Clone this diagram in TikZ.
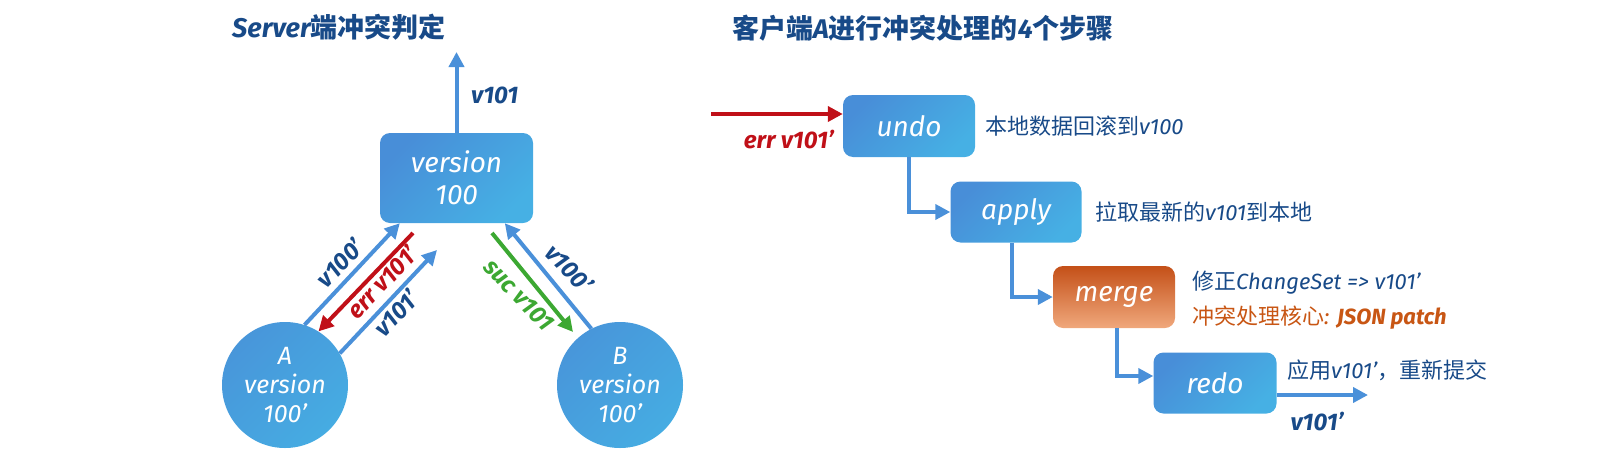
\documentclass[tikz,border=0pt]{standalone}
\usepackage{fontspec}
\setmainfont{Fira Sans}
\newfontfamily\cjk{Noto Sans CJK SC}
\usetikzlibrary{arrows.meta,calc}
\definecolor{boxA}{RGB}{72,142,216}
\definecolor{boxB}{RGB}{70,176,228}
\definecolor{circA}{RGB}{72,150,218}
\definecolor{circB}{RGB}{70,172,226}
\definecolor{orA}{RGB}{196,80,24}
\definecolor{orB}{RGB}{240,168,124}
\definecolor{lineblue}{RGB}{74,144,217}
\definecolor{darkblue}{RGB}{24,74,136}
\definecolor{errred}{RGB}{192,16,24}
\definecolor{sucgreen}{RGB}{60,168,50}
\definecolor{orangetext}{RGB}{200,86,20}
\tikzset{
  stepbox/.style={rectangle, rounded corners=10pt, inner sep=0pt, shading=axis,
     top color=boxA, bottom color=boxB, shading angle=45, text=white,
     font=\fontsize{28}{30}\selectfont\itshape},
  orangebox/.style={stepbox, top color=orA, bottom color=orB},
  client/.style={circle, inner sep=0pt, minimum size=126pt, shading=axis,
     top color=circA, bottom color=circB, shading angle=45, text=white,
     align=center, font=\fontsize{25}{29}\selectfont\itshape},
  conn/.style={line width=4pt, -{Triangle[length=15pt,width=15pt]}},
  bluearrow/.style={conn, draw=lineblue},
  redarrow/.style={conn, draw=errred},
  greenarrow/.style={conn, draw=sucgreen},
  lbl/.style={font=\fontsize{24}{26}\selectfont\bfseries\itshape, inner sep=1pt},
  desc/.style={anchor=west, text=darkblue, inner sep=0pt, font=\fontsize{22}{24}\selectfont\itshape},
  titletext/.style={anchor=west, text=darkblue, inner sep=0pt, font=\fontsize{27}{30}\selectfont\bfseries\itshape}
}
\begin{document}
\begin{tikzpicture}[x=1pt,y=-1pt]
\useasboundingbox (0,0) rectangle (1600,450);
% ---------- Left: server ----------
\node[titletext] (t1) at (232,27) {Server{\cjk\bfseries 端冲突判定}};
\node[stepbox, minimum width=153pt, minimum height=90pt, align=center,
      font=\fontsize{28}{32}\selectfont\itshape] (server) at (456.5,178) {version\\100};
\coordinate (up) at (456.5,52);
\draw[bluearrow] (server.north) -- (up);
\node[lbl, text=darkblue, anchor=west] (l101) at (470,95) {v101};

\node[client] (A) at (285,385) {A\\version\\100’};
\node[client] (B) at (620,385) {B\\version\\100’};

% A side arrows
\coordinate (redstart) at (413,233);
\coordinate (bluetip) at (437,250);
\draw[bluearrow] (A.72) -- ($(server.south west)+(20,0)$);
\draw[redarrow] (redstart) -- (A.58);
\draw[bluearrow] (A.30) -- (bluetip);
\node[lbl, text=darkblue, rotate=46] (lv100a) at (340,263) {v100’};
\node[lbl, text=errred, rotate=46] (lerr) at (382,282) {err v101’};
\node[lbl, text=darkblue, rotate=46] (lv101a) at (396,313) {v101’};

% B side arrows
\coordinate (greenstart) at (492,233);
\coordinate (greentip) at (573,332);
\draw[greenarrow] (greenstart) -- (greentip);
\draw[bluearrow] (B.117) -- ($(server.south west)+(125,0)$);
\node[lbl, text=sucgreen, rotate=-46] (lsuc) at (519,295) {suc v101};
\node[lbl, text=darkblue, rotate=-46] (lv100b) at (569,268) {v100’};

% ---------- Right: client steps ----------
\node[titletext] (t2) at (732,28) {{\cjk\bfseries 客户端}A{\cjk\bfseries 进行冲突处理的}4{\cjk\bfseries 个步骤}};

\node[stepbox, minimum width=132pt, minimum height=62pt] (undo) at (909,126) {undo};
\node[stepbox, minimum width=131pt, minimum height=61pt] (apply) at (1016,212) {apply};
\node[orangebox, minimum width=122pt, minimum height=62pt] (merge) at (1114,297) {merge};
\node[stepbox, minimum width=123pt, minimum height=61pt] (redo) at (1215,383) {redo};

\coordinate (errin) at (711,114);
\draw[redarrow] (errin) -- ($(undo.west)+(0,-12)$);
\node[lbl, text=errred, anchor=east] (lerr2) at (835,140) {err v101’};

\draw[bluearrow] (undo.south) |- (apply.west);
\draw[bluearrow] ($(apply.south)+(-4,0)$) |- (merge.west);
\draw[bluearrow] ($(merge.south)+(3,0)$) |- ($(redo.west)+(0,-7)$);
\coordinate (out) at (1368,395);
\draw[bluearrow] ($(redo.east)+(0,12)$) -- (out);
\node[lbl, text=darkblue] (lout) at (1317,422) {v101’};

\node[desc] (d1) at (985,126) {{\cjk 本地数据回滚到}v100};
\node[desc] (d2) at (1095,212) {{\cjk 拉取最新的}v101{\cjk 到本地}};
\node[desc] (d3) at (1192,283) {{\cjk 修正}ChangeSet => v101’};
\node[desc, text=orangetext] (d4) at (1192,318) {{\cjk 冲突处理核心}: {\bfseries JSON patch}};
\node[desc] (d5) at (1287,370) {{\cjk 应用}v101’{\cjk ，重新提交}};
\end{tikzpicture}
\end{document}
